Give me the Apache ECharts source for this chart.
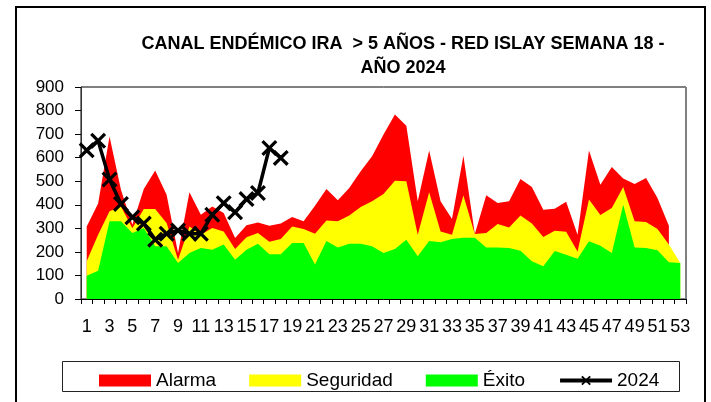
<!DOCTYPE html>
<html>
<head>
<meta charset="utf-8">
<script src="https://cdn.jsdelivr.net/npm/echarts@6/dist/echarts.min.js"></script>
<style>html,body{margin:0;padding:0;background:#fff;}#c{width:711px;height:402px;}</style>
</head>
<body>
<div id="c"></div>
<script>
var weeks = [];
for (var w = 1; w <= 53; w++) weeks.push(String(w));
var alarma = [308,405,690,464,315,467,546,443,195,453,358,393,365,259,313,325,311,320,348,330,396,467,419,471,542,606,698,783,736,415,630,415,340,608,276,440,408,415,509,475,379,383,413,273,630,485,560,512,488,514,429,311,null];
var seguridad = [160,273,372,393,300,382,382,323,167,308,273,301,287,212,262,280,243,255,308,297,277,333,330,354,391,415,446,502,500,273,453,287,273,439,276,280,318,304,354,320,263,290,286,202,422,357,386,475,330,327,297,231,153];
var exito = [99,120,330,330,280,301,224,224,153,195,216,209,231,167,209,235,190,190,238,238,146,246,219,235,235,224,195,212,252,181,246,241,255,260,260,219,219,216,205,160,139,204,188,171,245,226,195,400,219,216,207,156,153];
var y2024 = [631,672,507,403,347,320,252,277,291,277,277,358,407,368,424,450,641,599];

var FONT = '"Liberation Sans", Arial, sans-serif';
var xMark = 'path://M0,2 L2,0 L7,5 L12,0 L14,2 L9,7 L14,12 L12,14 L7,9 L2,14 L0,12 L5,7 Z';

function area(name, data, color) {
  return {
    name: name, type: 'line', data: data, symbol: 'none', showSymbol: false,
    lineStyle: { width: 0, color: color }, itemStyle: { color: color },
    areaStyle: { color: color, opacity: 1 }, silent: true, animation: false
  };
}

var chart = echarts.init(document.getElementById('c'));
chart.setOption({
  animation: false,
  title: {
    text: 'CANAL ENDÉMICO IRA  > 5 AÑOS - RED ISLAY SEMANA 18 -\nAÑO 2024',
    left: 398, top: 27, textAlign: 'center',
    textStyle: { fontFamily: FONT, fontWeight: 'bold', fontSize: 18, lineHeight: 24, color: '#000' }
  },
  grid: { left: 81, top: 87, right: 25, bottom: 103, show: true, borderColor: '#000', borderWidth: 1, backgroundColor: 'transparent' },
  legend: {
    left: 94, top: 366, itemWidth: 52, itemHeight: 12, itemGap: 33,
    textStyle: { fontFamily: FONT, fontSize: 19, color: '#000' },
    data: [
      { name: 'Alarma', icon: 'rect' },
      { name: 'Seguridad', icon: 'rect' },
      { name: 'Éxito', icon: 'rect' },
      { name: '2024', itemStyle: { color: '#000' }, lineStyle: { width: 4, color: '#000' } }
    ]
  },
  xAxis: {
    type: 'category', data: weeks, boundaryGap: true,
    axisLine: { show: true, lineStyle: { color: '#000', width: 1 } },
    axisTick: { show: true, interval: 0, length: 5, lineStyle: { color: '#000' } },
    axisLabel: { interval: 1, margin: 19, fontFamily: FONT, fontSize: 18, color: '#000', hideOverlap: false },
    splitLine: { show: false }
  },
  yAxis: {
    type: 'value', min: 0, max: 900, interval: 100,
    axisLine: { show: true, lineStyle: { color: '#333', width: 1 } },
    axisTick: { show: true, length: 6, lineStyle: { color: '#000' } },
    axisLabel: { margin: 17, fontFamily: FONT, fontSize: 17, color: '#000' },
    splitLine: { show: false }
  },
  series: [
    area('Alarma', alarma, '#FF0000'),
    area('Seguridad', seguridad, '#FFFF00'),
    area('Éxito', exito, '#00FF00'),
    {
      name: '2024', type: 'line', data: y2024,
      symbol: xMark, symbolSize: 16, showSymbol: true, showAllSymbol: true,
      lineStyle: { color: '#000', width: 3.5 }, itemStyle: { color: '#000' },
      z: 5, animation: false
    }
  ],
  graphic: [
    { type: 'rect', shape: { x: 16, y: 7, width: 689, height: 410 }, style: { fill: 'none', stroke: '#000', lineWidth: 2 }, silent: true, z: -1 },
    { type: 'rect', shape: { x: 62.5, y: 361.5, width: 617, height: 30 }, style: { fill: 'none', stroke: '#222', lineWidth: 1 }, silent: true, z: -1 },
    { type: 'line', shape: { x1: 686, y1: 87, x2: 686, y2: 299 }, style: { stroke: '#808080', lineWidth: 2 }, silent: true, z: 10 }
  ]
});
</script>
</body>
</html>
